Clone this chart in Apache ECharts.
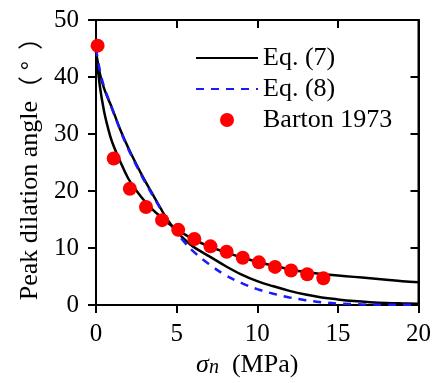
<!DOCTYPE html>
<html>
<head>
<meta charset="utf-8">
<script src="https://cdn.jsdelivr.net/npm/echarts@6/dist/echarts.min.js"></script>
<style>
  html, body {margin: 0; padding: 0; background: #fff;}
  #chart {width: 434px; height: 383px;}
</style>
</head>
<body>
<div id="chart"></div>
<script>
const curveX = [0, 0.25, 0.5, 0.75, 1, 1.5, 2, 2.5, 3, 3.5, 4, 4.5, 5, 5.5, 6, 7, 8, 9, 10, 11, 12, 13, 14, 15, 16, 17, 18, 19, 20]
// Eq. (7), curve through the Barton points
const eq7Upper = [44.5, 38.2, 34, 31, 28.6, 25.2, 22.2, 20.1, 18.3, 16.8, 15.5, 14.3, 13.3, 12.4, 11.6, 10.3, 9.3, 8.4, 7.6, 6.9, 6.3, 5.8, 5.45, 5.2, 4.95, 4.7, 4.45, 4.2, 4.0]
// Eq. (7), second curve decaying to ~0
const eq7Lower = [44.5, 40.5, 38, 36.2, 34.5, 30.8, 27.6, 24.7, 22.0, 19.5, 17.0, 14.7, 12.9, 11.5, 10.3, 8.6, 6.9, 5.4, 4.2, 3.3, 2.5, 1.85, 1.35, 1.0, 0.72, 0.52, 0.38, 0.3, 0.25]
// Eq. (8)
const eq8 = [45, 41, 38.3, 36.3, 34.4, 30.7, 27.4, 24.5, 21.8, 19.3, 16.9, 14.7, 12.7, 11.0, 9.5, 7.2, 5.3, 3.9, 2.8, 2.0, 1.35, 0.85, 0.5, 0.27, 0.16, 0.1, 0.07, 0.05, 0.04]
// Barton 1973 data
const bartonX = [0.1, 1.1, 2.1, 3.1, 4.1, 5.1, 6.1, 7.1, 8.1, 9.1, 10.1, 11.1, 12.1, 13.1, 14.1]
const bartonY = [45.5, 25.7, 20.4, 17.2, 14.9, 13.2, 11.6, 10.3, 9.35, 8.3, 7.5, 6.7, 6.07, 5.4, 4.7]

const zip = (xs, ys) => xs.map((x, i) => [x, ys[i]])

const serif = '"Liberation Serif", "Times New Roman", serif'
const black = '#000'
const blue = '#1a1aff'

// top / right axes: only inward ticks (the frame itself is the grid border)
const frameAxis = (extra) => Object.assign({
  type: 'value',
  axisLine: {show: true, onZero: false, lineStyle: {color: black, width: 2}},
  axisTick: {show: true, inside: true, length: 8, lineStyle: {color: black, width: 2}},
  axisLabel: {show: false},
  splitLine: {show: false}
}, extra)

const myChart = echarts.init(document.getElementById('chart'))
myChart.setOption({
  animation: false,
  grid: {left: 96, right: 15, top: 20, bottom: 70, show: true, borderColor: black, borderWidth: 2, backgroundColor: 'transparent'},
  legend: {
    orient: 'vertical',
    left: 190,
    top: 40,
    itemWidth: 62,
    itemHeight: 14,
    itemGap: 5,
    textStyle: {fontFamily: serif, fontSize: 26, color: black},
    data: [
      {name: 'Eq. (7)', itemStyle: {opacity: 0}},
      {name: 'Eq. (8)', itemStyle: {opacity: 0}},
      'Barton 1973'
    ]
  },
  xAxis: [{
    type: 'value',
    min: 0, max: 20, interval: 5,
    name: '{s|σ}{n|n}  (MPa)',
    nameLocation: 'middle',
    nameGap: 41,
    nameTextStyle: {
      fontFamily: serif, fontSize: 26, color: black, padding: [0, 20, 0, 0],
      rich: {
        s: {fontFamily: serif, fontSize: 26, fontStyle: 'italic', color: black},
        n: {fontFamily: serif, fontSize: 20, fontStyle: 'italic', color: black, padding: [6, 0, 0, 0]}
      }
    },
    axisLine: {lineStyle: {color: black, width: 2}},
    axisTick: {inside: false, length: 8, lineStyle: {color: black, width: 2}},
    axisLabel: {margin: 17, fontFamily: serif, fontSize: 25, color: black},
    splitLine: {show: false}
  }, frameAxis({position: 'top', min: 0, max: 20, interval: 5})],
  yAxis: [{
    type: 'value',
    min: 0, max: 50, interval: 10,
    name: '{t|Peak dilation angle}{p|（ °  ）}',
    nameLocation: 'middle',
    nameGap: 53,
    nameTextStyle: {
      fontFamily: serif, fontSize: 26, color: black,
      rich: {
        t: {fontFamily: serif, fontSize: 26, color: black},
        p: {fontFamily: '"Noto Sans CJK SC", sans-serif', fontSize: 25, color: black}
      }
    },
    axisLine: {show: true, lineStyle: {color: black, width: 2}},
    axisTick: {show: true, inside: false, length: 8, lineStyle: {color: black, width: 2}},
    axisLabel: {margin: 17, fontFamily: serif, fontSize: 25, color: black},
    splitLine: {show: false}
  }, frameAxis({position: 'right', min: 0, max: 50, interval: 10})],
  series: [{
    name: 'Eq. (7)',
    type: 'line',
    smooth: 0.4,
    symbol: 'none',
    data: zip(curveX, eq7Upper),
    lineStyle: {color: black, width: 2.5},
    itemStyle: {color: black},
    z: 2
  }, {
    name: 'Eq. (7)',
    type: 'line',
    smooth: 0.4,
    symbol: 'none',
    data: zip(curveX, eq7Lower),
    lineStyle: {color: black, width: 2.5},
    itemStyle: {color: black},
    z: 2
  }, {
    name: 'Eq. (8)',
    type: 'line',
    smooth: 0.4,
    symbol: 'none',
    data: zip(curveX, eq8),
    lineStyle: {color: blue, width: 2.5, type: [8, 7]},
    itemStyle: {color: blue},
    z: 3
  }, {
    name: 'Barton 1973',
    type: 'scatter',
    symbol: 'circle',
    symbolSize: 14,
    data: zip(bartonX, bartonY),
    itemStyle: {color: '#ff0000', opacity: 1},
    z: 4
  }, {
    // transparent copy on the top/right axes so those axes are in use
    name: 'frame',
    type: 'scatter',
    xAxisIndex: 1,
    yAxisIndex: 1,
    data: zip(bartonX, bartonY),
    itemStyle: {color: 'rgba(0,0,0,0)'},
    silent: true,
    z: 1
  }]
})
</script>
</body>
</html>
